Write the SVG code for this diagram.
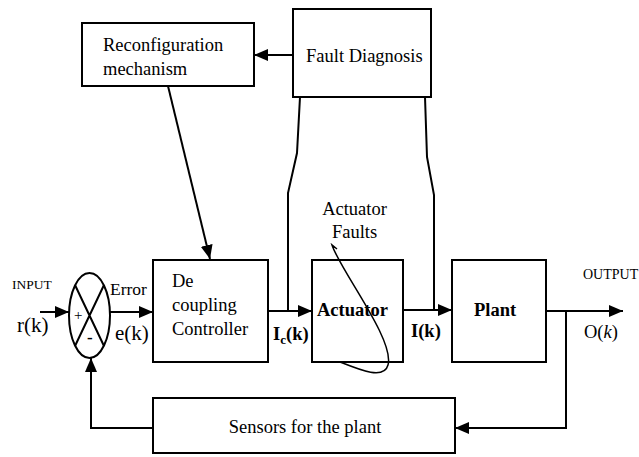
<svg xmlns="http://www.w3.org/2000/svg" width="639" height="457" viewBox="0 0 639 457">
<defs>
<marker id="ah" viewBox="0 0 14 12" refX="14" refY="6" markerWidth="14" markerHeight="12" markerUnits="userSpaceOnUse" orient="auto">
<path d="M0,0 L14,6 L0,12 Z" fill="#000"/>
</marker>
</defs>
<style>
.box{fill:#fff;stroke:#000;stroke-width:2}
.ln{fill:none;stroke:#000;stroke-width:2}
text{font-family:'Liberation Serif','Times New Roman','DejaVu Serif',serif;font-size:18.5px;fill:#000}
.b{font-weight:bold}
.s{font-size:13.5px}
.m{font-size:21px}
</style>
<rect width="639" height="457" fill="#fff"/>
<g id="connectors">
<path class="ln" d="M293,55 L254,55" marker-end="url(#ah)"/>
<path class="ln" d="M168,86 L210,259" marker-end="url(#ah)"/>
<path class="ln" d="M300,97 L297,153 L288,193 L288,311"/>
<path class="ln" d="M425,97 L427,157 L434,195 L434,311"/>
<path class="ln" d="M40,312 L69,312" marker-end="url(#ah)"/>
<path class="ln" d="M110,312 L153,312" marker-end="url(#ah)"/>
<path class="ln" d="M268,311 L312,311" marker-end="url(#ah)"/>
<path class="ln" d="M403,310 L452,310" marker-end="url(#ah)"/>
<path class="ln" d="M546,311 L623,311" marker-end="url(#ah)"/>
<path class="ln" d="M566,311 L566,428 L455,428" marker-end="url(#ah)"/>
<path class="ln" d="M153,428 L91,428 L91,358" marker-end="url(#ah)"/>
</g>
<g id="reconfiguration">
<rect class="box" x="82" y="23" width="172" height="63"/>
<text x="103" y="51">Reconfiguration</text>
<text x="103" y="75">mechanism</text>
</g>
<g id="fault-diagnosis">
<rect class="box" x="293" y="9" width="138" height="88"/>
<text x="306" y="62">Fault Diagnosis</text>
</g>
<g id="summer">
<ellipse class="box" cx="89.5" cy="315.5" rx="20.5" ry="42.5"/>
<path class="ln" d="M75,285 L104,346 M104,285 L75,346" stroke-width="1.5"/>
<text x="74" y="320" style="font-size:15px">+</text>
<text class="b" x="87" y="343" style="font-size:17px">-</text>
</g>
<g id="controller">
<rect class="box" x="153" y="260" width="115" height="102"/>
<text x="172" y="287">De</text>
<text x="172" y="311">coupling</text>
<text x="172" y="335">Controller</text>
</g>
<g id="actuator">
<rect class="box" x="312" y="260" width="91" height="102"/>
<text class="b" x="317" y="316">Actuator</text>
</g>
<g id="plant">
<rect class="box" x="452" y="260" width="94" height="102"/>
<text class="b" x="474" y="316">Plant</text>
</g>
<g id="sensors">
<rect class="box" x="153" y="398" width="302" height="55"/>
<text x="305" y="433" text-anchor="middle">Sensors for the plant</text>
</g>
<g id="fault-loop">
<text x="354.5" y="215" text-anchor="middle">Actuator</text>
<text x="354.5" y="238" text-anchor="middle">Faults</text>
<path d="M337,249 L332,245 C340,270 395,340 388,365 C384,380 360,370 340,362" fill="none" stroke="#000" stroke-width="1.5"/>
</g>
<g id="labels">
<text class="s" x="12" y="289">INPUT</text>
<text class="m" x="17" y="332">r(k)</text>
<text x="110" y="295" style="font-size:17.5px">Error</text>
<text class="m" x="115" y="340">e(k)</text>
<text class="b" x="273" y="340">I<tspan style="font-size:13px" dy="4">c</tspan><tspan dy="-4">(k)</tspan></text>
<text class="b" x="411" y="337">I(k)</text>
<text class="s" x="583" y="279" style="font-size:14px">OUTPUT</text>
<text x="584" y="338">O(<tspan font-style="italic">k</tspan>)</text>
</g>
</svg>
